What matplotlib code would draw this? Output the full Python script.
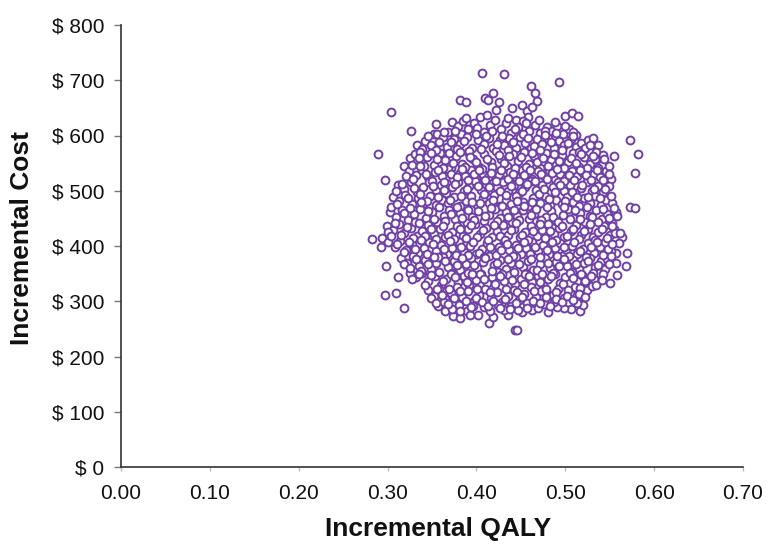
import matplotlib
matplotlib.use('Agg')
import matplotlib.pyplot as plt

plt.rcParams['font.family'] = ['Liberation Sans', 'DejaVu Sans']

x_ticks = [0.00, 0.10, 0.20, 0.30, 0.40, 0.50, 0.60, 0.70]
y_ticks = [0, 100, 200, 300, 400, 500, 600, 700, 800]

# (qaly, cost), points on the edge of the cloud
edge_top = [(.406, 714), (.431, 712), (.493, 696), (.461, 690), (.466, 677), (.419, 677), (.468, 662),
            (.381, 664), (.388, 661), (.410, 667), (.413, 664), (.425, 661), (.304, 643), (.422, 646),
            (.440, 650), (.451, 655), (.500, 635), (.507, 641), (.514, 635), (.573, 592), (.582, 567),
            (.555, 563), (.579, 533), (.289, 567), (.297, 519), (.573, 471), (.579, 469), (.326, 609),
            (.354, 620), (.352, 603), (.356, 602), (.457, 645), (.463, 651), (.458, 634), (.445, 628)]
edge_bottom = [(.443, 248), (.446, 248), (.414, 261), (.419, 271), (.374, 273), (.382, 270), (.365, 282),
               (.318, 287), (.297, 311), (.309, 315), (.312, 343), (.298, 364), (.283, 412), (.294, 415),
               (.293, 399), (.550, 333), (.558, 347), (.568, 363), (.557, 370), (.570, 387), (.557, 387),
               (.564, 417), (.560, 405), (.516, 283), (.506, 286), (.498, 287), (.491, 289), (.480, 281),
               (.402, 276), (.435, 275), (.451, 280), (.462, 285), (.520, 294)]

# the dense part, one list per cost band
band_600 = [(.372, 624), (.379, 618), (.385, 627), (.391, 611), (.397, 622), (.404, 633), (.409, 606), (.415, 619),
            (.421, 628), (.428, 611), (.433, 622), (.439, 604), (.447, 616), (.452, 627), (.459, 608), (.466, 619),
            (.472, 605), (.479, 616), (.485, 609), (.491, 618), (.497, 603), (.504, 612), (.383, 602), (.368, 607),
            (.512, 601), (.362, 598), (.342, 590), (.333, 583), (.339, 575), (.349, 582), (.358, 588), (.367, 579),
            (.375, 594), (.381, 585), (.389, 597), (.395, 578), (.402, 591), (.408, 584), (.414, 596), (.419, 577),
            (.426, 592), (.431, 583), (.437, 595), (.444, 578), (.449, 598), (.455, 586), (.461, 577), (.468, 593),
            (.474, 584), (.481, 596), (.487, 578), (.493, 590), (.499, 582), (.506, 594), (.512, 579), (.518, 587),
            (.525, 592), (.531, 595), (.522, 578), (.537, 583)]
band_540 = [(.325, 559), (.331, 566), (.338, 552), (.344, 561), (.352, 547), (.359, 568), (.365, 555), (.371, 542),
            (.377, 563), (.384, 549), (.390, 571), (.396, 557), (.403, 543), (.409, 566), (.416, 552), (.422, 572),
            (.428, 558), (.434, 545), (.441, 567), (.447, 554), (.453, 571), (.459, 548), (.465, 562), (.472, 541),
            (.478, 569), (.484, 556), (.490, 546), (.496, 565), (.503, 552), (.509, 569), (.515, 543), (.521, 561),
            (.528, 549), (.534, 557), (.541, 547), (.318, 545), (.324, 536), (.332, 529), (.339, 538), (.346, 524),
            (.353, 534), (.361, 527), (.368, 539), (.374, 522), (.381, 533), (.387, 526), (.394, 538), (.400, 521),
            (.407, 531), (.413, 524), (.419, 537), (.425, 528), (.431, 520), (.438, 534), (.444, 525), (.451, 537),
            (.457, 529), (.463, 521), (.469, 535), (.476, 526), (.482, 538), (.488, 522), (.494, 531), (.501, 523),
            (.507, 536), (.513, 527), (.519, 534), (.526, 522), (.532, 531), (.539, 525), (.546, 536), (.551, 521)]
band_480 = [(.312, 510), (.319, 503), (.326, 515), (.333, 498), (.340, 507), (.347, 516), (.354, 501), (.360, 511),
            (.366, 496), (.373, 506), (.379, 516), (.386, 499), (.392, 509), (.398, 518), (.405, 502), (.411, 512),
            (.417, 497), (.423, 507), (.430, 515), (.436, 500), (.442, 511), (.448, 496), (.455, 506), (.461, 517),
            (.467, 501), (.474, 511), (.480, 497), (.486, 507), (.492, 516), (.499, 500), (.505, 510), (.511, 496),
            (.518, 505), (.524, 515), (.530, 499), (.537, 508), (.543, 498), (.549, 508), (.306, 489), (.313, 481),
            (.320, 492), (.327, 476), (.334, 486), (.341, 478), (.348, 490), (.355, 474), (.361, 484), (.368, 477),
            (.375, 489), (.381, 472), (.388, 482), (.394, 491), (.401, 475), (.407, 486), (.414, 478), (.420, 492),
            (.426, 473), (.433, 483), (.439, 476), (.445, 490), (.452, 480), (.458, 472), (.464, 487), (.471, 478),
            (.477, 491), (.483, 474), (.490, 484), (.496, 476), (.502, 489), (.509, 479), (.515, 472), (.521, 486),
            (.528, 477), (.534, 490), (.540, 474), (.546, 484), (.553, 478), (.557, 462), (.558, 455)]
band_420 = [(.303, 461), (.310, 453), (.316, 466), (.323, 447), (.330, 458), (.337, 467), (.343, 451), (.350, 461),
            (.356, 444), (.363, 455), (.369, 466), (.376, 448), (.382, 459), (.389, 442), (.395, 453), (.402, 464),
            (.408, 446), (.414, 457), (.421, 467), (.427, 450), (.433, 461), (.440, 443), (.446, 454), (.452, 465),
            (.459, 448), (.465, 458), (.471, 441), (.478, 452), (.484, 463), (.490, 446), (.497, 456), (.503, 467),
            (.509, 450), (.516, 460), (.522, 443), (.528, 454), (.535, 465), (.541, 448), (.547, 458), (.553, 442),
            (.299, 437), (.306, 429), (.313, 439), (.319, 423), (.326, 433), (.333, 418), (.339, 428), (.346, 438),
            (.352, 421), (.359, 431), (.365, 416), (.372, 426), (.378, 437), (.385, 419), (.391, 430), (.398, 439),
            (.404, 422), (.411, 433), (.417, 417), (.423, 427), (.430, 438), (.436, 420), (.442, 431), (.449, 416),
            (.455, 426), (.461, 436), (.468, 419), (.474, 429), (.480, 439), (.487, 422), (.493, 433), (.499, 417),
            (.506, 427), (.512, 438), (.518, 420), (.525, 431), (.531, 416), (.537, 426), (.544, 436), (.550, 420),
            (.555, 431), (.556, 424), (.562, 423)]
band_360 = [(.301, 407), (.308, 398), (.314, 409), (.321, 393), (.328, 403), (.334, 387), (.341, 397), (.347, 408),
            (.354, 391), (.360, 401), (.367, 386), (.373, 396), (.380, 407), (.386, 390), (.393, 400), (.399, 385),
            (.406, 395), (.412, 406), (.418, 389), (.425, 399), (.431, 409), (.437, 392), (.444, 402), (.450, 386),
            (.456, 397), (.463, 408), (.469, 391), (.475, 401), (.482, 386), (.488, 396), (.494, 406), (.501, 389),
            (.507, 400), (.513, 385), (.520, 395), (.526, 405), (.532, 388), (.539, 398), (.545, 408), (.551, 391),
            (.315, 379), (.322, 370), (.329, 381), (.335, 364), (.342, 374), (.349, 358), (.355, 369), (.362, 380),
            (.368, 362), (.375, 373), (.381, 357), (.388, 368), (.394, 378), (.401, 361), (.407, 371), (.414, 382),
            (.420, 365), (.426, 375), (.433, 358), (.439, 369), (.445, 380), (.452, 362), (.458, 373), (.464, 357),
            (.471, 367), (.477, 378), (.483, 361), (.490, 371), (.496, 381), (.502, 364), (.509, 375), (.515, 358),
            (.521, 369), (.528, 379), (.534, 362), (.540, 373), (.547, 377), (.545, 358), (.552, 381)]
band_300 = [(.325, 351), (.332, 343), (.339, 352), (.346, 336), (.353, 346), (.360, 330), (.366, 341), (.373, 351),
            (.379, 334), (.386, 345), (.392, 329), (.399, 339), (.405, 350), (.412, 333), (.418, 343), (.424, 353),
            (.431, 336), (.437, 347), (.443, 331), (.450, 341), (.456, 352), (.462, 335), (.469, 345), (.475, 329),
            (.481, 340), (.488, 350), (.494, 333), (.500, 344), (.507, 353), (.513, 337), (.519, 347), (.526, 331),
            (.532, 341), (.538, 351), (.345, 320), (.352, 310), (.358, 322), (.365, 304), (.371, 315), (.378, 325),
            (.384, 307), (.391, 318), (.397, 301), (.403, 312), (.410, 323), (.416, 306), (.423, 316), (.429, 299),
            (.435, 310), (.442, 321), (.448, 303), (.454, 314), (.461, 325), (.467, 307), (.473, 318), (.480, 301),
            (.486, 312), (.492, 323), (.499, 305), (.505, 316), (.511, 326), (.518, 309), (.524, 320), (.530, 328),
            (.357, 292), (.364, 299), (.372, 286), (.380, 294), (.389, 283), (.396, 291), (.408, 289), (.415, 282),
            (.424, 293), (.431, 285), (.439, 292), (.447, 284), (.457, 296), (.469, 287), (.476, 295), (.487, 298),
            (.513, 297), (.503, 298), (.393, 276)]

# second pass over the cloud, the gaps between the first lists
fill_upper = [(.376, 609), (.388, 631), (.401, 614), (.412, 637), (.418, 609), (.436, 631), (.443, 612), (.456, 622),
              (.470, 628), (.477, 609), (.488, 624), (.500, 617), (.509, 606), (.346, 600), (.354, 574), (.363, 606),
              (.371, 589), (.378, 576), (.386, 590), (.392, 572), (.399, 603), (.405, 575), (.411, 599), (.423, 585),
              (.429, 600), (.435, 574), (.441, 588), (.452, 603), (.458, 595), (.465, 581), (.471, 574), (.477, 601),
              (.484, 588), (.490, 604), (.496, 574), (.503, 586), (.509, 599), (.515, 571), (.528, 582), (.535, 570),
              (.542, 565), (.336, 571), (.328, 547), (.335, 560), (.341, 544), (.349, 569), (.356, 557), (.362, 541),
              (.369, 568), (.374, 551), (.381, 570), (.387, 543), (.393, 561), (.400, 552), (.406, 539), (.412, 558),
              (.418, 543), (.425, 565), (.431, 550), (.437, 562), (.443, 541), (.450, 561), (.456, 543), (.462, 569),
              (.468, 552), (.475, 560), (.481, 545), (.487, 566), (.493, 554), (.499, 542), (.506, 560), (.512, 550),
              (.518, 567), (.524, 541), (.531, 562), (.537, 542), (.544, 557), (.549, 544), (.321, 527), (.329, 521),
              (.336, 544), (.343, 531), (.350, 518), (.357, 538), (.364, 516), (.371, 530), (.378, 525), (.384, 539),
              (.391, 519), (.397, 530), (.403, 537), (.410, 519), (.416, 532), (.422, 518), (.428, 538), (.435, 522),
              (.441, 531), (.448, 518), (.454, 528), (.460, 538), (.466, 518), (.473, 530), (.479, 521), (.485, 532),
              (.491, 540), (.498, 518), (.504, 529), (.510, 519), (.516, 538), (.523, 529), (.529, 519), (.536, 537),
              (.543, 519), (.549, 530)]
fill_middle = [(.309, 499), (.316, 512), (.323, 487), (.330, 505), (.337, 494), (.344, 482), (.351, 509), (.357, 489),
               (.363, 502), (.370, 483), (.376, 513), (.383, 490), (.389, 503), (.395, 480), (.402, 509), (.408, 495),
               (.414, 506), (.419, 484), (.427, 499), (.433, 492), (.439, 508), (.446, 482), (.451, 499), (.457, 513),
               (.463, 480), (.470, 494), (.476, 503), (.482, 485), (.488, 498), (.494, 510), (.500, 481), (.507, 498),
               (.513, 488), (.519, 511), (.526, 489), (.532, 503), (.539, 486), (.545, 503), (.551, 491), (.304, 470),
               (.311, 476), (.318, 459), (.325, 468), (.331, 443), (.338, 479), (.345, 463), (.352, 449), (.358, 470),
               (.365, 446), (.371, 458), (.378, 471), (.384, 451), (.391, 466), (.397, 447), (.404, 477), (.410, 454),
               (.416, 469), (.423, 445), (.429, 472), (.435, 452), (.442, 466), (.448, 447), (.454, 472), (.461, 456),
               (.467, 467), (.473, 447), (.479, 470), (.486, 453), (.492, 444), (.498, 471), (.505, 449), (.511, 465),
               (.517, 448), (.524, 470), (.530, 452), (.537, 443), (.543, 467), (.549, 451), (.555, 468), (.301, 425),
               (.308, 441), (.315, 420), (.322, 435), (.329, 414), (.335, 441), (.342, 419), (.349, 431), (.355, 412),
               (.362, 437), (.368, 420), (.375, 412), (.381, 431), (.388, 414), (.394, 438), (.401, 417), (.407, 429),
               (.413, 411), (.420, 438), (.426, 419), (.432, 411), (.439, 429), (.445, 441), (.451, 420), (.458, 411),
               (.464, 428), (.471, 439), (.477, 414), (.483, 427), (.489, 411), (.496, 437), (.502, 418), (.509, 431),
               (.515, 412), (.521, 427), (.528, 440), (.534, 411), (.541, 430), (.547, 414), (.553, 436)]
fill_lower = [(.304, 418), (.311, 404), (.318, 389), (.324, 408), (.331, 395), (.338, 410), (.344, 386), (.351, 403),
              (.357, 380), (.364, 395), (.370, 409), (.377, 383), (.383, 399), (.390, 384), (.396, 408), (.403, 388),
              (.409, 380), (.415, 399), (.422, 383), (.428, 392), (.434, 404), (.441, 381), (.447, 396), (.453, 407),
              (.460, 385), (.466, 399), (.472, 380), (.479, 393), (.485, 407), (.491, 382), (.498, 398), (.504, 381),
              (.510, 407), (.517, 391), (.523, 380), (.529, 399), (.536, 408), (.542, 383), (.548, 395), (.553, 403),
              (.318, 368), (.325, 361), (.332, 376), (.338, 355), (.345, 368), (.352, 380), (.358, 353), (.365, 372),
              (.371, 350), (.378, 365), (.384, 378), (.391, 352), (.397, 366), (.404, 349), (.410, 379), (.417, 355),
              (.423, 369), (.429, 350), (.436, 376), (.442, 353), (.448, 368), (.455, 349), (.461, 376), (.468, 357),
              (.474, 349), (.480, 370), (.486, 352), (.493, 364), (.499, 376), (.505, 351), (.512, 367), (.518, 350),
              (.525, 372), (.531, 352), (.537, 366), (.543, 350), (.549, 368), (.328, 340), (.335, 350), (.342, 330),
              (.349, 348), (.356, 322), (.362, 337), (.369, 323), (.376, 344), (.382, 318), (.389, 334), (.395, 349),
              (.401, 322), (.408, 341), (.415, 317), (.421, 331), (.427, 346), (.433, 322), (.440, 339), (.446, 316),
              (.453, 332), (.459, 345), (.465, 319), (.471, 335), (.478, 322), (.484, 346), (.490, 317), (.497, 332),
              (.503, 321), (.509, 342), (.516, 324), (.522, 336), (.529, 345), (.535, 329), (.541, 339), (.349, 305),
              (.355, 296), (.361, 312), (.368, 295), (.375, 306), (.382, 282), (.388, 301), (.394, 290), (.400, 305),
              (.406, 298), (.413, 292), (.419, 301), (.426, 288), (.432, 304), (.438, 286), (.445, 297), (.451, 308),
              (.457, 288), (.464, 300), (.471, 296), (.478, 308), (.483, 292), (.490, 304), (.496, 298), (.502, 309),
              (.509, 302), (.515, 314), (.522, 307)]

all_points = (edge_top + edge_bottom + band_600 + band_540 + band_480 + band_420 + band_360 + band_300
              + fill_upper + fill_middle + fill_lower)
qaly = [p[0] for p in all_points]
cost = [p[1] for p in all_points]

fig = plt.figure(figsize=(7.67, 5.41), dpi=100)
ax = fig.add_axes([121 / 767, 1 - 467 / 541, 622 / 767, 442 / 541])

ax.scatter(qaly, cost, s=32, facecolors='white', edgecolors='#7040a4', linewidths=1.4, clip_on=False, zorder=3)

ax.set_xlim(0, 0.7)
ax.set_ylim(0, 800)
ax.set_xticks(x_ticks)
ax.set_xticklabels([f'{t:.2f}' for t in x_ticks])
ax.set_yticks(y_ticks)
ax.set_yticklabels([f'$ {t}' for t in y_ticks])
ax.tick_params(axis='y', length=5, width=1, color='#777777', labelsize=15, pad=7, labelcolor='#111111')
ax.tick_params(axis='x', length=3, width=1, color='#bbbbbb', labelsize=15, pad=9, labelcolor='#111111')

ax.spines['top'].set_visible(False)
ax.spines['right'].set_visible(False)
ax.spines['left'].set_color('#333333')
ax.spines['bottom'].set_color('#333333')
ax.spines['left'].set_linewidth(1.2)
ax.spines['bottom'].set_linewidth(1.2)

fig.text(438 / 767, 1 - 529 / 541, 'Incremental QALY', fontsize=19, fontweight='bold', color='#111111',
         ha='center', va='center')
fig.text(22 / 767, 1 - 238 / 541, 'Incremental Cost', fontsize=19, fontweight='bold', color='#111111',
         ha='center', va='center', rotation=90)

fig.savefig('out.png', dpi=100)
